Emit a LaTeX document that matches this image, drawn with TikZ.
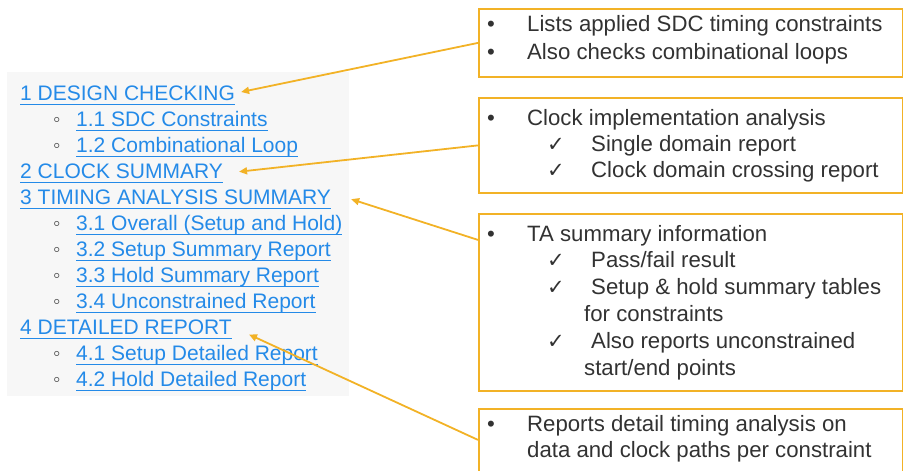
\documentclass[tikz,border=0pt]{standalone}
\usepackage{fontspec}
\setmainfont{Liberation Sans}
\newfontfamily\symfont{DejaVu Sans}
\usetikzlibrary{arrows.meta}
\definecolor{boxgold}{RGB}{242,178,38}
\definecolor{linkblue}{RGB}{36,138,232}
\definecolor{textgray}{RGB}{50,50,50}
\definecolor{bulgray}{RGB}{80,80,80}
\definecolor{panelgray}{RGB}{247,247,247}
\newsavebox{\lnkbox}
\newcommand{\lnk}[1]{\sbox{\lnkbox}{\color{linkblue}#1}{\color{linkblue}\rlap{\rule[-4.6pt]{\wd\lnkbox}{1.1pt}}\usebox{\lnkbox}}}
\newcommand{\lsub}[1]{\makebox[23pt][l]{\textcolor{bulgray}{◦}}\lnk{#1}}
\newcommand{\bul}{\makebox[40pt][l]{•}}
\newcommand{\chk}{\makebox[44pt][l]{\symfont\fontsize{21}{21}\selectfont ✓}}

\tikzset{
  infobox/.style={draw=boxgold, line width=1.8pt, anchor=north west, inner sep=0pt, minimum width=424pt},
  hd/.style={anchor=base west, inner sep=0pt, font=\fontsize{21}{26}\selectfont},
  tx/.style={anchor=base west, inner sep=0pt, text=textgray, font=\fontsize{22.2}{26}\selectfont},
  pointer/.style={draw=boxgold, line width=1.8pt, -{Triangle[length=8pt,width=7pt]}}
}

\begin{document}
\begin{tikzpicture}[x=1pt,y=-1pt]
    \clip (0,0) rectangle (903,471);
    \fill[panelgray] (7,72) rectangle (349,396);
    \node[hd] (h1) at (20,100) {\lnk{1 DESIGN CHECKING}};
    \node[hd] (s11) at (53,126.1) {\lsub{1.1 SDC Constraints}};
    \node[hd] (s12) at (53,152.1) {\lsub{1.2 Combinational Loop}};
    \node[hd] (h2) at (20,178.2) {\lnk{2 CLOCK SUMMARY}};
    \node[hd] (h3) at (20,204.2) {\lnk{3 TIMING ANALYSIS SUMMARY}};
    \node[hd] (s31) at (53,230.3) {\lsub{3.1 Overall (Setup and Hold)}};
    \node[hd] (s32) at (53,256.4) {\lsub{3.2 Setup Summary Report}};
    \node[hd] (s33) at (53,282.4) {\lsub{3.3 Hold Summary Report}};
    \node[hd] (s34) at (53,308.5) {\lsub{3.4 Unconstrained Report}};
    \node[hd] (h4) at (20,334.5) {\lnk{4 DETAILED REPORT}};
    \node[hd] (s41) at (53,360.6) {\lsub{4.1 Setup Detailed Report}};
    \node[hd] (s42) at (53,386.7) {\lsub{4.2 Hold Detailed Report}};

    \node[infobox, minimum height=68pt] (b1) at (478,8) {};
    \node[infobox, minimum height=95pt] (b2) at (478,97) {};
    \node[infobox, minimum height=177pt] (b3) at (478,213) {};
    \node[infobox, minimum height=66pt] (b4) at (478,408) {};

    \node[tx] (t11) at (487,31) {\bul Lists applied SDC timing constraints};
    \node[tx] (t12) at (487,59.3) {\bul Also checks combinational loops};
    \node[tx] (t21) at (487,125) {\bul Clock implementation analysis};
    \node[tx] (t22) at (547,151.7) {\chk Single domain report};
    \node[tx] (t23) at (547,177.3) {\chk Clock domain crossing report};
    \node[tx] (t31) at (487,241) {\bul TA summary information};
    \node[tx] (t32) at (547,267.7) {\chk Pass/fail result};
    \node[tx] (t33) at (547,294.3) {\chk Setup \& hold summary tables};
    \node[tx] (t34) at (584,321.7) {for constraints};
    \node[tx] (t35) at (547,348.3) {\chk Also reports unconstrained};
    \node[tx] (t36) at (584,375) {start/end points};
    \node[tx] (t41) at (487,431.7) {\bul Reports detail timing analysis on};
    \node[tx] (t42) at (527,457.7) {data and clock paths per constraint};

    \draw[pointer] (b1.west) -- ([xshift=6pt,yshift=8pt]h1.base east);
    \draw[pointer] (b2.west) -- ([xshift=16pt,yshift=6.5pt]h2.base east);
    \draw[pointer] ([yshift=62.5pt]b3.west) -- ([xshift=20pt,yshift=5pt]h3.base east);
    \draw[pointer] ([yshift=2pt]b4.west) -- ([xshift=17pt]h4.base east);
\end{tikzpicture}
\end{document}
